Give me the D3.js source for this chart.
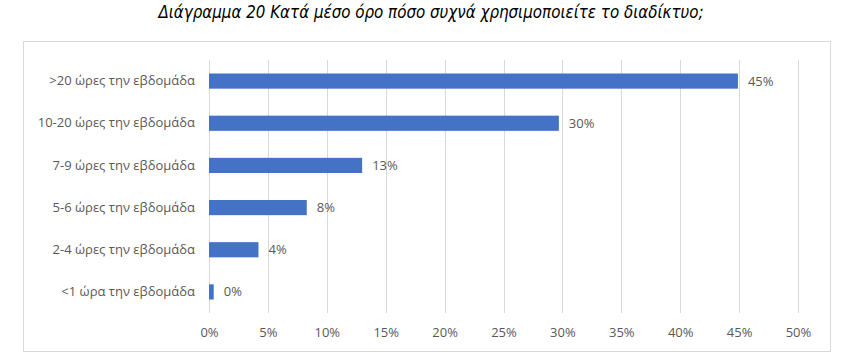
<!DOCTYPE html>
<html>
<head>
  <meta charset="utf-8" />
  <script src="https://cdn.jsdelivr.net/npm/d3@7"></script>
  <style>
    body { margin: 0; background: #fff; }
    .title { font-family: "Liberation Sans Narrow", "DejaVu Sans Condensed", sans-serif; font-style: italic; font-size: 16.8px; fill: #000; }
    .lbl { font-family: "Open Sans", sans-serif; font-size: 13px; fill: #595959; }
  </style>
</head>
<body>
<div id="chart"></div>
<script>
var categories = [">20 ώρες την εβδομάδα", "10-20 ώρες την εβδομάδα", "7-9 ώρες την εβδομάδα",
                  "5-6 ώρες την εβδομάδα", "2-4 ώρες την εβδομάδα", "<1 ώρα την εβδομάδα"];
var values = [0.449, 0.297, 0.130, 0.083, 0.042, 0.004];
var ticks = [0, 0.05, 0.10, 0.15, 0.20, 0.25, 0.30, 0.35, 0.40, 0.45, 0.50];

var width = 859, height = 363;
var svg = d3.select('#chart').append('svg')
  .attr('width', width).attr('height', height);

svg.append('text').attr('class', 'title')
  .attr('x', 431).attr('y', 18).attr('text-anchor', 'middle')
  .text('Διάγραμμα 20 Κατά μέσο όρο πόσο συχνά χρησιμοποιείτε το διαδίκτυο;');

// chart area border
svg.append('rect')
  .attr('x', 23.5).attr('y', 41.5).attr('width', 807).attr('height', 310)
  .attr('fill', 'none').attr('stroke', '#d9d9d9');

var x = d3.scaleLinear().domain([0, 0.5]).range([209, 798]);
var y = d3.scaleBand().domain(categories).range([60, 313]).paddingInner(0.64).paddingOuter(0.32);

// gridlines
svg.append('g').selectAll('line').data(ticks).enter().append('line')
  .attr('x1', function(d) { return Math.round(x(d)) + 0.5; })
  .attr('x2', function(d) { return Math.round(x(d)) + 0.5; })
  .attr('y1', 60).attr('y2', 313)
  .attr('stroke', '#d9d9d9');

// tick labels
var xAxis = d3.axisBottom(x).tickValues(ticks).tickFormat(d3.format('.0%')).tickSize(0).tickPadding(0);
var ax = svg.append('g').attr('transform', 'translate(0,337)').call(xAxis);
ax.select('.domain').remove();
ax.selectAll('text').attr('class', 'lbl').attr('dy', 0).attr('font-family', null).attr('font-size', null);

// category labels
var yAxis = d3.axisLeft(y).tickSize(0).tickPadding(14);
var ay = svg.append('g').attr('transform', 'translate(209,0)').call(yAxis);
ay.select('.domain').remove();
ay.selectAll('text').attr('class', 'lbl').attr('font-family', null).attr('font-size', null);

// bars
svg.append('g').selectAll('rect').data(values).enter().append('rect')
  .attr('x', x(0))
  .attr('y', function(d, i) { return y(categories[i]); })
  .attr('width', function(d) { return x(d) - x(0); })
  .attr('height', y.bandwidth())
  .attr('fill', '#4472c4');

// value labels
svg.append('g').selectAll('text').data(values).enter().append('text')
  .attr('class', 'lbl')
  .attr('x', function(d) { return x(d) + 10; })
  .attr('y', function(d, i) { return y(categories[i]) + y.bandwidth() / 2; })
  .attr('dy', '0.35em')
  .text(function(d) { return d3.format('.0%')(d); });
</script>
</body>
</html>
